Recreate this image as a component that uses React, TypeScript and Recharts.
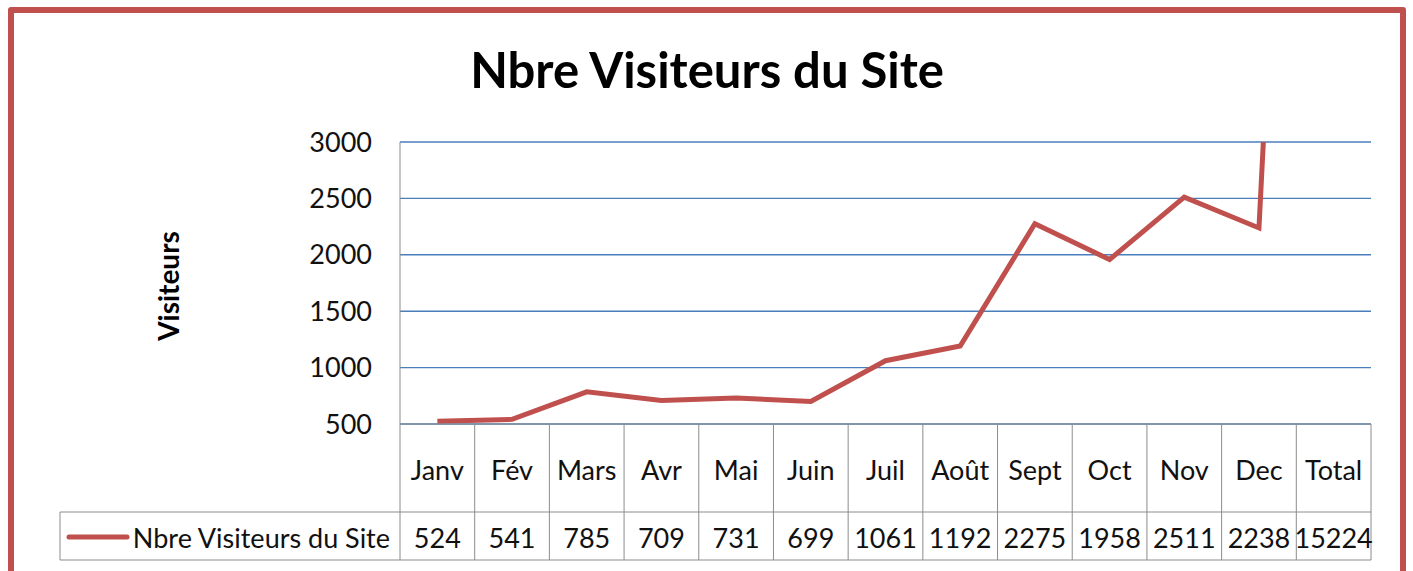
import { CartesianGrid, Customized, Line, LineChart, XAxis, YAxis } from "recharts";

const months = ["Janv", "Fév", "Mars", "Avr", "Mai", "Juin", "Juil", "Août", "Sept", "Oct", "Nov", "Dec", "Total"];
const visitors = [524, 541, 785, 709, 731, 699, 1061, 1192, 2275, 1958, 2511, 2238, 15224];
const yTicks = [500, 1000, 1500, 2000, 2500, 3000];
const seriesName = "Nbre Visiteurs du Site";

const data = months.map((m, i) => ({ month: m, visitors: visitors[i] }));

const RED = "#c0504d";
const GRID_BLUE = "#4a7ebb";
const TABLE_GREY = "#8c8c8c";
const TEXT = "#111";
const FONT = "Lato, 'Open Sans', sans-serif";

// table geometry (page px)
const TABLE_LEFT = 60;
const TABLE_RIGHT = 1371;
const ROW_SPLIT = 512;
const TABLE_BOTTOM = 560;

function TableTick(props: any) {
  const { x, y, payload, index } = props;
  const half = payload.offset || 74.7 / 2;
  const isFirst = index === 0;
  const isLast = index === months.length - 1;
  return (
    <g>
      <line x1={x - half} y1={y} x2={x - half} y2={TABLE_BOTTOM} stroke={TABLE_GREY} strokeWidth={1} />
      {isLast && <line x1={x + half} y1={y} x2={x + half} y2={TABLE_BOTTOM} stroke={TABLE_GREY} strokeWidth={1} />}
      {isFirst && (
        <g>
          <line x1={TABLE_LEFT} y1={ROW_SPLIT} x2={TABLE_RIGHT} y2={ROW_SPLIT} stroke={TABLE_GREY} />
          <line x1={TABLE_LEFT} y1={TABLE_BOTTOM} x2={TABLE_RIGHT} y2={TABLE_BOTTOM} stroke={TABLE_GREY} />
          <line x1={TABLE_LEFT} y1={ROW_SPLIT} x2={TABLE_LEFT} y2={TABLE_BOTTOM} stroke={TABLE_GREY} />
          <line x1={69} y1={537} x2={127} y2={537} stroke={RED} strokeWidth={5} strokeLinecap="round" />
          <text x={390} y={537} textAnchor="end" dominantBaseline="central" fontSize={27} fill={TEXT}>
            {seriesName}
          </text>
        </g>
      )}
      <text x={x} y={469} textAnchor="middle" dominantBaseline="central" fontSize={27} fill={TEXT}>
        {payload.value}
      </text>
      <text x={x} y={537} textAnchor="middle" dominantBaseline="central" fontSize={27} fill={TEXT}>
        {visitors[index]}
      </text>
    </g>
  );
}

function Title() {
  return (
    <text x={707} y={88} textAnchor="middle" fontSize={49} fontWeight={700} fill="#000">
      Nbre Visiteurs du Site
    </text>
  );
}

export default function App() {
  return (
    <div
      style={{
        position: "fixed",
        left: 0,
        top: 0,
        width: 1413,
        height: 571,
        overflow: "hidden",
        background: "#fff",
        fontFamily: FONT,
      }}
    >
      <LineChart
        width={1413}
        height={571}
        data={data}
        margin={{ top: 142, right: 42, left: 0, bottom: 0 }}
      >
        <CartesianGrid vertical={false} stroke={GRID_BLUE} strokeWidth={1.4} />
        <XAxis
          dataKey="month"
          scale="band"
          interval={0}
          height={147}
          tickSize={0}
          tickMargin={0}
          axisLine={{ stroke: TABLE_GREY }}
          tickLine={false}
          tick={<TableTick />}
        />
        <YAxis
          width={400}
          domain={[500, 3000]}
          ticks={yTicks}
          allowDataOverflow
          tickSize={0}
          tickMargin={28}
          tickLine={false}
          axisLine={{ stroke: TABLE_GREY }}
          tick={{ fontSize: 27, fill: TEXT }}
          label={{
            content: () => (
              <text
                transform="translate(168,286) rotate(-90)"
                textAnchor="middle"
                dominantBaseline="central"
                fontSize={28}
                fontWeight={700}
                fill="#000"
              >
                Visiteurs
              </text>
            ),
          }}
        />
        <Line
          type="linear"
          dataKey="visitors"
          name={seriesName}
          stroke={RED}
          strokeWidth={5}
          dot={false}
          activeDot={false}
          isAnimationActive={false}
        />
        <Customized component={Title} />
      </LineChart>
      <div
        style={{
          position: "absolute",
          left: 8,
          top: 7,
          width: 1398,
          height: 620,
          boxSizing: "border-box",
          border: `6px solid ${RED}`,
          borderRadius: 3,
          pointerEvents: "none",
        }}
      />
    </div>
  );
}
